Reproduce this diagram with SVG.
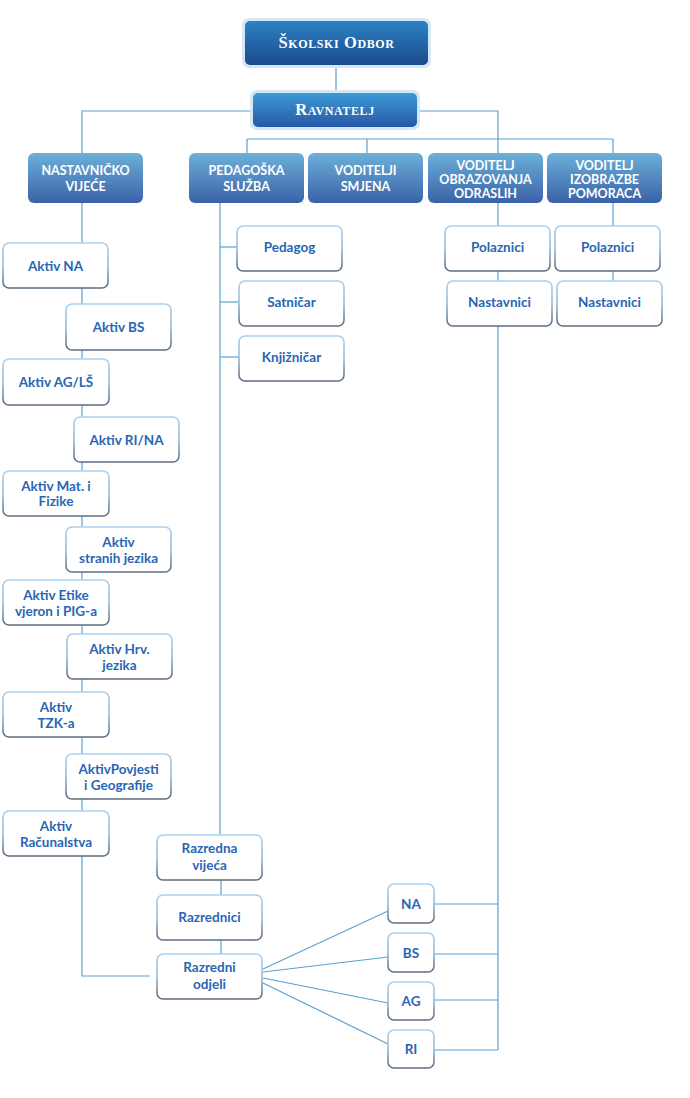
<svg xmlns="http://www.w3.org/2000/svg" width="690" height="1098" viewBox="0 0 690 1098">
<defs>
<linearGradient id="gHead" x1="0" y1="0" x2="0" y2="1">
<stop offset="0" stop-color="#6cb0d8"/>
<stop offset="1" stop-color="#3a62a8"/>
</linearGradient>
<linearGradient id="gTop" x1="0" y1="0" x2="0" y2="1">
<stop offset="0" stop-color="#2b82c4"/>
<stop offset="1" stop-color="#1b4a8c"/>
</linearGradient>
<linearGradient id="gRav" x1="0" y1="0" x2="0" y2="1">
<stop offset="0" stop-color="#3c9ad6"/>
<stop offset="1" stop-color="#2858a6"/>
</linearGradient>
<linearGradient id="gEdge" x1="0" y1="0" x2="0" y2="1">
<stop offset="0" stop-color="#a8d0f0"/>
<stop offset="0.5" stop-color="#9ab8d4"/>
<stop offset="1" stop-color="#5c6c7e"/>
</linearGradient>
</defs>
<style>
.c{fill:none;stroke:#5aa2d2;stroke-width:1.2}
.box{fill:#ffffff;stroke:url(#gEdge);stroke-width:1.6}
.hd{fill:url(#gHead)}
.t{font-family:Lato,"Open Sans","Liberation Sans",sans-serif;font-weight:bold;font-size:13.5px;fill:#2866b4;text-anchor:middle}
.ht{font-family:Lato,"Open Sans","Liberation Sans",sans-serif;font-weight:bold;font-size:12.5px;fill:#ffffff;text-anchor:middle}
.st{font-family:"Liberation Serif",serif;font-weight:bold;font-variant:small-caps;font-size:16.5px;fill:#ffffff;text-anchor:middle;letter-spacing:0.6px}
.glow{fill:#d4e7f4}
</style>
<rect width="690" height="1098" fill="#ffffff"/>
<g id="connectors">
<path class="c" d="M336,65 V93"/>
<path class="c" d="M253,111 H82 V153"/>
<path class="c" d="M417,111 H498 V1050"/>
<path class="c" d="M247,139 H613"/>
<path class="c" d="M247,139 V153"/>
<path class="c" d="M367,139 V153"/>
<path class="c" d="M613,139 V153"/>
<path class="c" d="M613,203 V281"/>
<path class="c" d="M82,203 V976 H150"/>
<path class="c" d="M220,203 V835"/>
<path class="c" d="M220,247 H237"/>
<path class="c" d="M220,302 H239"/>
<path class="c" d="M220,357 H239"/>
<path class="c" d="M221,880 V895"/>
<path class="c" d="M221,940 V954"/>
<path class="c" d="M263,969 L388,911"/>
<path class="c" d="M263,972 L388,957"/>
<path class="c" d="M263,978 L388,1003"/>
<path class="c" d="M263,983 L388,1044"/>
<path class="c" d="M434,904 H498"/>
<path class="c" d="M434,954 H498"/>
<path class="c" d="M434,1000 H498"/>
<path class="c" d="M434,1050 H498"/>
</g>
<g id="skolski-odbor">
<rect class="glow" x="242" y="18" width="189" height="50" rx="7"/>
<rect x="245" y="21" width="183" height="44" rx="5" fill="url(#gTop)"/>
<text class="st" x="336.5" y="48">Školski  Odbor</text>
</g>
<g id="ravnatelj">
<rect class="glow" x="250" y="90" width="170" height="40" rx="7"/>
<rect x="253" y="93" width="164" height="34" rx="5" fill="url(#gRav)"/>
<text class="st" x="335" y="115">Ravnatelj</text>
</g>
<g id="nastavnicko-vijece">
<rect class="hd" x="28" y="153" width="115" height="50" rx="6"/>
<text class="ht" x="85.5" y="174.5">NASTAVNIČKO</text>
<text class="ht" x="85.5" y="190.5">VIJEĆE</text>
</g>
<g id="pedagoska-sluzba">
<rect class="hd" x="189" y="153" width="115" height="50" rx="6"/>
<text class="ht" x="246.5" y="174.5">PEDAGOŠKA</text>
<text class="ht" x="246.5" y="190.5">SLUŽBA</text>
</g>
<g id="voditelji-smjena">
<rect class="hd" x="308" y="153" width="115" height="50" rx="6"/>
<text class="ht" x="365.5" y="174.5">VODITELJI</text>
<text class="ht" x="365.5" y="190.5">SMJENA</text>
</g>
<g id="voditelj-obrazovanja">
<rect class="hd" x="428" y="153" width="115" height="50" rx="6"/>
<text class="ht" x="485.5" y="169.5">VODITELJ</text>
<text class="ht" x="485.5" y="183.5">OBRAZOVANJA</text>
<text class="ht" x="485.5" y="197.5">ODRASLIH</text>
</g>
<g id="voditelj-izobrazbe">
<rect class="hd" x="547" y="153" width="115" height="50" rx="6"/>
<text class="ht" x="604.5" y="169.5">VODITELJ</text>
<text class="ht" x="604.5" y="183.5">IZOBRAZBE</text>
<text class="ht" x="604.5" y="197.5">POMORACA</text>
</g>
<g id="aktiv-na">
<rect class="box" x="3" y="243" width="105" height="45" rx="6"/>
<text class="t" x="55.5" y="270.5">Aktiv NA</text>
</g>
<g id="aktiv-bs">
<rect class="box" x="66" y="304" width="105" height="46" rx="6"/>
<text class="t" x="118.5" y="332">Aktiv BS</text>
</g>
<g id="aktiv-ag-ls">
<rect class="box" x="3" y="359" width="106" height="46" rx="6"/>
<text class="t" x="56" y="387">Aktiv AG/LŠ</text>
</g>
<g id="aktiv-ri-na">
<rect class="box" x="74" y="417" width="105" height="45" rx="6"/>
<text class="t" x="126.5" y="444.5">Aktiv RI/NA</text>
</g>
<g id="aktiv-mat-fizike">
<rect class="box" x="3" y="471" width="106" height="45" rx="6"/>
<text class="t" x="56" y="490.5">Aktiv Mat. i</text>
<text class="t" x="56" y="506">Fizike</text>
</g>
<g id="aktiv-stranih-jezika">
<rect class="box" x="66" y="527" width="105" height="45" rx="6"/>
<text class="t" x="118.5" y="546.5">Aktiv</text>
<text class="t" x="118.5" y="562.5">stranih jezika</text>
</g>
<g id="aktiv-etike">
<rect class="box" x="3" y="580" width="106" height="45" rx="6"/>
<text class="t" x="56" y="599.5">Aktiv Etike</text>
<text class="t" x="56" y="615.5">vjeron i PIG-a</text>
</g>
<g id="aktiv-hrv-jezika">
<rect class="box" x="67" y="634" width="105" height="45" rx="6"/>
<text class="t" x="119.5" y="654">Aktiv Hrv.</text>
<text class="t" x="119.5" y="669.5">jezika</text>
</g>
<g id="aktiv-tzk">
<rect class="box" x="3" y="692" width="106" height="45" rx="6"/>
<text class="t" x="56" y="711.5">Aktiv</text>
<text class="t" x="56" y="727.5">TZK-a</text>
</g>
<g id="aktiv-povjesti">
<rect class="box" x="66" y="754" width="105" height="45" rx="6"/>
<text class="t" x="118.5" y="773.5">AktivPovjesti</text>
<text class="t" x="118.5" y="789.5">i Geografije</text>
</g>
<g id="aktiv-racunalstva">
<rect class="box" x="3" y="811" width="106" height="45" rx="6"/>
<text class="t" x="56" y="830.5">Aktiv</text>
<text class="t" x="56" y="846.5">Računalstva</text>
</g>
<g id="pedagog">
<rect class="box" x="237" y="226" width="105" height="45" rx="6"/>
<text class="t" x="289.5" y="252">Pedagog</text>
</g>
<g id="satnicar">
<rect class="box" x="239" y="281" width="105" height="45" rx="6"/>
<text class="t" x="291.5" y="307">Satničar</text>
</g>
<g id="knjiznicar">
<rect class="box" x="239" y="336" width="105" height="45" rx="6"/>
<text class="t" x="291.5" y="362">Knjižničar</text>
</g>
<g id="polaznici-1">
<rect class="box" x="445" y="226" width="105" height="45" rx="6"/>
<text class="t" x="497.5" y="252">Polaznici</text>
</g>
<g id="polaznici-2">
<rect class="box" x="555" y="226" width="105" height="45" rx="6"/>
<text class="t" x="607.5" y="252">Polaznici</text>
</g>
<g id="nastavnici-1">
<rect class="box" x="447" y="281" width="105" height="45" rx="6"/>
<text class="t" x="499.5" y="307">Nastavnici</text>
</g>
<g id="nastavnici-2">
<rect class="box" x="557" y="281" width="105" height="45" rx="6"/>
<text class="t" x="609.5" y="307">Nastavnici</text>
</g>
<g id="razredna-vijeca">
<rect class="box" x="157" y="835" width="105" height="45" rx="6"/>
<text class="t" x="209.5" y="853">Razredna</text>
<text class="t" x="209.5" y="869.5">vijeća</text>
</g>
<g id="razrednici">
<rect class="box" x="157" y="895" width="105" height="45" rx="6"/>
<text class="t" x="209.5" y="921.5">Razrednici</text>
</g>
<g id="razredni-odjeli">
<rect class="box" x="157" y="954" width="105" height="45" rx="6"/>
<text class="t" x="209.5" y="972">Razredni</text>
<text class="t" x="209.5" y="988.5">odjeli</text>
</g>
<g id="na">
<rect class="box" x="388" y="884" width="46" height="39" rx="6"/>
<text class="t" x="411" y="908.5">NA</text>
</g>
<g id="bs">
<rect class="box" x="388" y="933" width="46" height="39" rx="6"/>
<text class="t" x="411" y="957.5">BS</text>
</g>
<g id="ag">
<rect class="box" x="388" y="982" width="46" height="38" rx="6"/>
<text class="t" x="411" y="1006">AG</text>
</g>
<g id="ri">
<rect class="box" x="388" y="1030" width="46" height="38" rx="6"/>
<text class="t" x="411" y="1054">RI</text>
</g>
</svg>
